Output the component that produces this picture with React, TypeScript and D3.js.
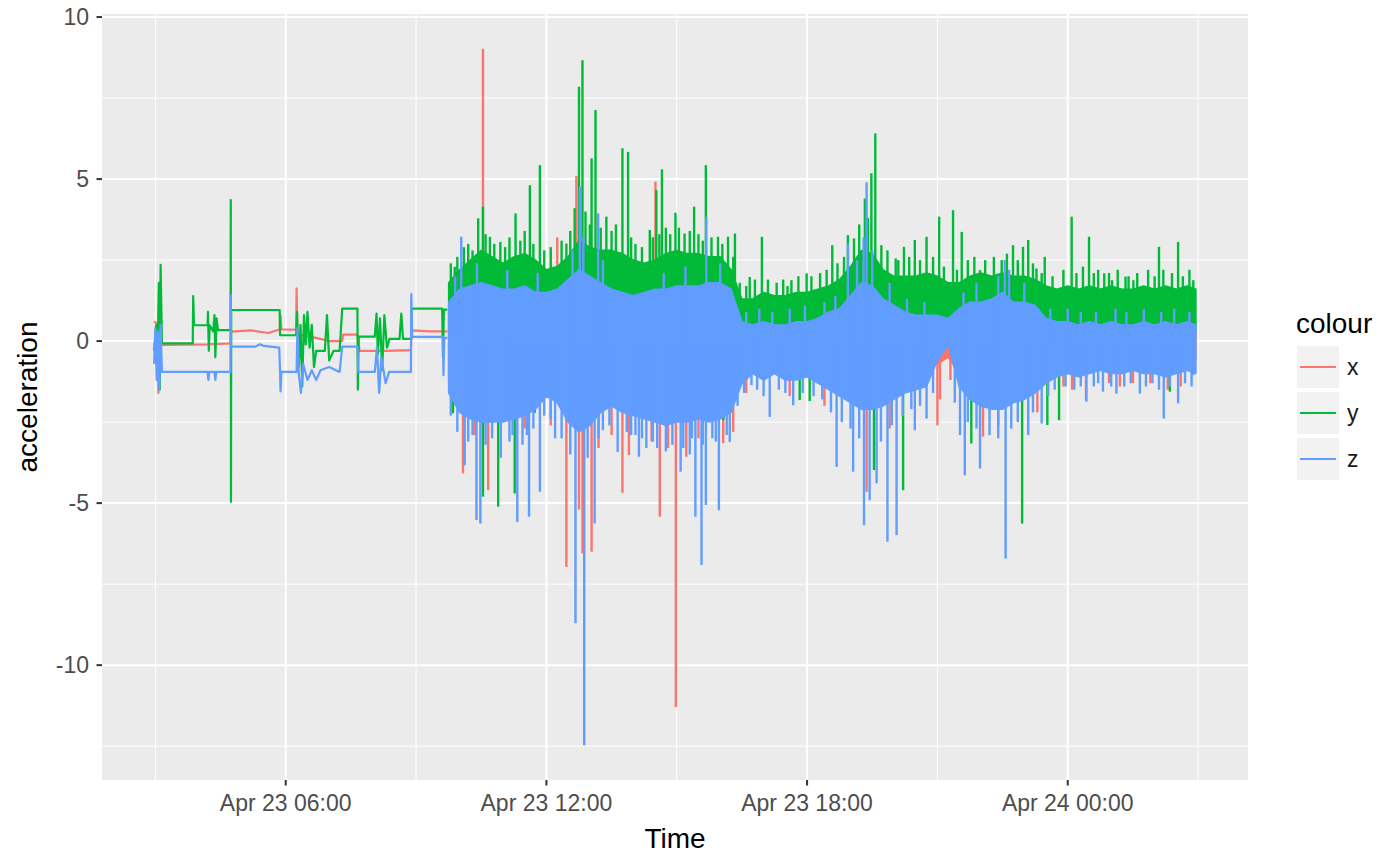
import React from 'react'
import * as d3 from 'd3'

// colours of the three acceleration axes (ggplot hue palette)
const seriesNames = ['x', 'y', 'z']
const seriesColors = ['#F8766D', '#00BA38', '#619CFF']

// quiet part of the recording: [hour since Apr 23 00:00, acceleration]
const quietX: [number, number][] = [
  [2.97, 0.6], [3.04, 0.55], [3.07, -1.6], [3.1, 0.4], [3.15, -0.1], [3.18, -0.12],
  [4.2, -0.1], [4.73, -0.07], [4.74, 0.29], [5.2, 0.33], [5.6, 0.25], [5.86, 0.36],
  [5.88, 0.8], [5.9, 0.36], [6.24, 0.35], [6.25, 1.63], [6.27, 0.2], [6.7, 0.1],
  [7.0, 0.0], [7.3, 0.0], [7.32, 0.2], [7.65, 0.2], [7.7, -0.3], [8.3, -0.3],
  [8.88, -0.28], [8.9, 0.33], [9.3, 0.3], [9.72, 0.3],
]
const quietY: [number, number][] = [
  [2.97, -0.3], [3.02, 0.5], [3.05, -0.4], [3.08, 1.8], [3.1, -1.5], [3.12, 2.35],
  [3.15, -0.07], [3.86, -0.07], [3.87, 1.39], [3.89, 0.49], [4.2, 0.49], [4.21, 0.9],
  [4.23, -0.3], [4.25, 0.49], [4.33, 0.3], [4.36, 0.8], [4.38, -0.5], [4.41, 0.7],
  [4.44, 0.34], [4.73, 0.34], [4.735, 4.35], [4.74, -4.96], [4.745, 0.96], [5.86, 0.96],
  [5.87, 0.18], [6.24, 0.18], [6.26, 0.9], [6.3, -0.8], [6.34, 0.5], [6.38, -1.4],
  [6.42, 0.8], [6.46, -0.1], [6.5, 0.9], [6.55, -0.2], [6.6, 0.5], [6.65, -0.8],
  [6.7, -0.3], [6.9, -0.3], [6.95, 0.8], [7.0, -0.6], [7.1, -0.3], [7.24, -0.3],
  [7.3, 1.0], [7.65, 1.0], [7.66, -1.5], [7.68, 0.14], [8.05, 0.14], [8.09, 0.85],
  [8.12, -0.4], [8.17, 0.7], [8.22, -0.9], [8.27, 0.8], [8.33, -0.2], [8.39, 0.07],
  [8.62, 0.07], [8.66, 0.85], [8.7, 0.07], [8.89, 0.07], [8.9, 1.0], [9.6, 1.0],
  [9.62, -0.5], [9.64, 0.97], [9.72, 0.97],
]
const quietZ: [number, number][] = [
  [2.97, -0.7], [3.0, 0.4], [3.03, -1.2], [3.06, 0.3], [3.09, -1.5], [3.12, 0.5],
  [3.15, -0.95], [4.2, -0.95], [4.22, -1.2], [4.24, -0.95], [4.36, -0.95], [4.38, -1.2],
  [4.4, -0.95], [4.73, -0.95], [4.735, 1.42], [4.74, -0.17], [5.3, -0.17], [5.4, -0.1],
  [5.5, -0.15], [5.85, -0.2], [5.87, -0.95], [5.88, -1.55], [5.9, -0.95], [6.25, -0.95],
  [6.27, 0.4], [6.3, -1.0], [6.35, -1.6], [6.4, -0.7], [6.5, -1.2], [6.6, -0.9],
  [6.7, -1.2], [6.8, -0.9], [7.0, -0.8], [7.24, -0.95], [7.3, -0.17], [7.65, -0.17],
  [7.67, -0.95], [8.05, -0.95], [8.1, -0.2], [8.15, -1.6], [8.2, -0.5], [8.3, -1.3],
  [8.38, -0.95], [8.88, -0.95], [8.89, 1.45], [8.91, 0.13], [9.3, 0.13], [9.62, 0.13],
  [9.63, -1.05], [9.65, 0.1], [9.72, 0.1],
]

// busy part: range covered by the dense trace in 15 minute bins
const bandHours = [
  9.75, 10, 10.25, 10.5, 10.75, 11, 11.25, 11.5, 11.75, 12, 12.25, 12.5, 12.75, 13,
  13.25, 13.5, 13.75, 14, 14.25, 14.5, 14.75, 15, 15.25, 15.5, 15.75, 16, 16.25, 16.5,
  16.75, 17, 17.25, 17.5, 17.75, 18, 18.25, 18.5, 18.75, 19, 19.25, 19.5, 19.75, 20,
  20.25, 20.5, 20.75, 21, 21.25, 21.5, 21.75, 22, 22.25, 22.5, 22.75, 23, 23.25, 23.5,
  23.75, 24, 24.25, 24.5, 24.75, 25, 25.25, 25.5, 25.75, 26, 26.25, 26.5, 26.75, 26.95,
]
const xLo = [
  -1.1, -1.7, -1.9, -2.1, -2.0, -2.1, -1.9, -1.8, -1.6, -1.1, -1.4, -2.1, -2.4, -2.2,
  -1.7, -1.5, -1.7, -1.8, -1.9, -2.1, -2.2, -2.1, -2.0, -1.9, -2.1, -2.0, -1.7,
  -0.5, -0.5, -0.6, -0.5, -0.6, -0.6, -0.5, -0.6, -0.8,
  -1.0, -1.3, -1.5, -1.5, -1.4, -1.2, -1.0,
  -0.9, -0.8, -0.7, -0.5,
  -1.0, -1.4, -1.6, -1.7, -1.7, -1.5, -1.4, -1.2,
  -0.7, -0.6, -0.6, -0.5, -0.6, -0.5, -0.6, -0.5, -0.6, -0.5, -0.6, -0.5, -0.6, -0.5, -0.6,
]
const xHi = [
  0.9, 1.2, 1.3, 1.4, 1.3, 1.2, 1.2, 1.3, 1.1, 1.1, 1.2, 1.5, 1.8, 1.6,
  1.5, 1.3, 1.2, 1.1, 1.2, 1.2, 1.3, 1.3, 1.3, 1.3, 1.4, 1.4, 1.2,
  0.3, 0.3, 0.3, 0.3, 0.3, 0.4, 0.4, 0.4, 0.6,
  0.8, 1.0, 1.3, 1.3, 1.0, 0.8, 0.6,
  0.5, 0.5, 0.4, 0.3,
  0.7, 0.9, 0.9, 1.0, 1.1, 1.0, 1.0, 0.9,
  0.4, 0.3, 0.3, 0.4, 0.3, 0.3, 0.4, 0.3, 0.3, 0.4, 0.3, 0.3, 0.4, 0.3, 0.3,
]
const yLo = [
  -1.3, -1.9, -2.1, -2.3, -2.2, -2.3, -2.1, -2.0, -1.8, -1.3, -1.6, -2.3, -2.6, -2.4,
  -1.9, -1.7, -1.9, -2.0, -2.1, -2.3, -2.4, -2.3, -2.2, -2.1, -2.3, -2.2, -1.9,
  0.4, 0.4, 0.3, 0.4, 0.4, 0.3, 0.4, 0.3, 0.2,
  -0.3, -0.8, -1.1, -1.1, -0.8, -0.3, 0.0,
  0.2, 0.3, 0.3, 0.3,
  -0.6, -1.0, -1.2, -1.2, -1.3, -1.0, -0.9, -0.6,
  0.3, 0.4, 0.3, 0.4, 0.3, 0.4, 0.3, 0.4, 0.3, 0.4, 0.3, 0.4, 0.3, 0.4, 0.3,
]
const yHi = [
  1.8, 2.2, 2.5, 2.8, 2.6, 2.4, 2.6, 2.7, 2.5, 2.2, 2.3, 2.6, 3.1, 2.9,
  2.8, 2.8, 2.7, 2.5, 2.4, 2.5, 2.7, 2.8, 2.7, 2.7, 2.6, 2.6, 2.2,
  1.3, 1.3, 1.5, 1.4, 1.4, 1.5, 1.5, 1.6, 1.7,
  1.9, 2.3, 2.8, 2.7, 2.2, 2.0, 2.0,
  2.0, 2.1, 2.0, 1.8,
  1.8, 2.0, 2.1, 2.0, 2.1, 2.0, 2.0, 1.9,
  1.7, 1.6, 1.7, 1.6, 1.7, 1.6, 1.7, 1.6, 1.6, 1.7, 1.6, 1.7, 1.6, 1.7, 1.6,
]
const zLo = [
  -1.6, -2.2, -2.4, -2.5, -2.5, -2.5, -2.4, -2.3, -2.1, -1.7, -1.9, -2.5, -2.8, -2.6,
  -2.2, -2.0, -2.2, -2.3, -2.4, -2.5, -2.6, -2.5, -2.5, -2.4, -2.5, -2.4, -2.2,
  -1.3, -1.0, -1.2, -1.0, -1.2, -1.2, -1.1, -1.3, -1.5,
  -1.7, -1.9, -2.1, -2.1, -2.0, -1.8, -1.6,
  -1.5, -1.4, -0.6, -0.1,
  -1.4, -1.8, -2.0, -2.1, -2.1, -1.9, -1.8, -1.6,
  -1.3, -1.1, -1.0, -1.1, -1.0, -0.9, -1.0, -1.0, -0.9, -1.0, -1.0, -1.1, -1.0, -0.9, -1.0,
]
const zHi = [
  1.2, 1.6, 1.7, 1.8, 1.7, 1.6, 1.6, 1.7, 1.5, 1.5, 1.6, 1.9, 2.2, 2.0,
  1.8, 1.6, 1.5, 1.4, 1.5, 1.6, 1.6, 1.7, 1.7, 1.7, 1.8, 1.8, 1.6,
  0.6, 0.5, 0.6, 0.5, 0.5, 0.6, 0.6, 0.7, 0.9,
  1.0, 1.4, 1.8, 1.7, 1.3, 1.1, 0.9,
  0.8, 0.8, 0.8, 0.7,
  1.0, 1.2, 1.2, 1.3, 1.5, 1.2, 1.2, 1.1,
  0.7, 0.6, 0.6, 0.5, 0.6, 0.5, 0.6, 0.5, 0.5, 0.6, 0.5, 0.6, 0.5, 0.6, 0.5,
]

// single readings that stick out of the dense trace: [hour, acceleration]
const spikesX: [number, number][] = [
  [10.08, -4.08], [10.54, 9.02], [10.66, -4.6], [11.09, -2.2], [12.25, 3.2], [12.46, -6.97],
  [12.69, 5.1], [12.75, -5.2], [12.83, -6.55], [13.04, -6.5], [13.5, -2.9], [13.75, -4.68],
  [13.9, -3.52], [14.42, -3.1], [14.51, 4.92], [14.61, -5.42], [14.8, -3.3], [14.98, -11.29],
  [15.22, -3.57], [16.07, -3.15], [19.37, -4.65], [21.0, -2.6], [21.06, -1.8], [22.05, -2.95],
  [23.9, -1.4], [24.42, -1.8], [24.95, -1.3], [25.5, -1.3], [26.6, -1.4],
  [10.35, -2.9], [11.5, -2.7], [12.1, -2.6], [13.2, -3.3], [15.5, -3.0], [16.3, -2.8],
  [16.6, -1.6], [17.6, -1.7], [18.4, -2.0], [19.9, -2.7], [21.3, -1.2], [22.4, -2.6],
  [23.3, -2.2], [24.1, -1.5], [25.2, -1.4], [25.9, -1.3], [26.3, -1.5],
]
const spikesY: [number, number][] = [
  [9.89, 2.29], [10.43, 3.79], [10.54, 4.15], [10.7, 3.22], [10.94, 3.06], [11.29, 3.94],
  [11.62, 4.81], [11.85, 5.43], [12.46, 3.01], [12.65, 4.1], [12.75, 7.85], [12.83, 8.67],
  [13.04, 5.64], [13.13, 7.13], [13.38, 3.84], [13.75, 5.95], [13.88, 5.84], [14.38, 3.43],
  [14.53, 4.66], [14.66, 5.3], [14.97, 3.96], [15.18, 3.32], [15.4, 4.15], [15.67, 5.43],
  [15.95, 3.22], [16.18, 3.22], [16.34, 3.32], [16.68, 1.98], [16.96, 3.22], [17.64, 1.88],
  [17.99, 2.09], [18.58, 2.96], [18.94, 3.27], [19.08, 3.17], [19.33, 4.4], [19.48, 5.18],
  [19.57, 6.41], [19.71, 2.96], [20.04, 2.55], [20.23, 2.91], [20.48, 3.12], [20.75, 3.22],
  [21.04, 3.84], [21.36, 4.04], [21.56, 3.37], [21.98, 2.19], [22.48, 2.5], [22.74, 2.96],
  [22.97, 2.91], [23.09, 3.12], [23.28, 2.24], [23.47, 2.6], [24.09, 3.84], [24.49, 3.22],
  [24.84, 2.09], [25.02, 1.88], [25.33, 1.99], [25.51, 1.88], [25.71, 1.63], [26.1, 2.91],
  [26.54, 3.06], [26.89, 1.88],
  [9.85, -2.23], [10.54, -4.8], [10.89, -5.11], [11.27, -4.7], [11.73, -2.22], [16.07, -2.44],
  [17.83, -1.82], [18.06, -1.85], [19.54, -3.98], [20.21, -4.6], [21.78, -3.16], [22.95, -5.63],
  [23.53, -2.59], [23.8, -2.44], [26.35, -1.56],
]
const spikesZ: [number, number][] = [
  [10.04, 3.22], [12.77, 4.76], [13.19, 3.94], [15.68, 3.84], [18.94, 3.0], [19.37, 4.9],
  [22.55, 2.5],
  [10.12, -3.83], [10.39, -5.52], [10.48, -5.63], [10.95, -3.6], [11.33, -5.58], [11.45, -3.2],
  [11.6, -5.42], [11.85, -4.65], [12.2, -3.0], [12.67, -8.71], [12.87, -12.47], [13.11, -5.63],
  [13.3, -2.75], [13.64, -3.42], [13.95, -2.9], [14.13, -3.57], [14.3, -3.3], [14.75, -3.4],
  [15.09, -4.03], [15.3, -3.5], [15.43, -5.42], [15.57, -6.91], [15.67, -5.06], [15.82, -3.0],
  [15.97, -5.22], [16.22, -3.11], [16.72, -1.36], [17.14, -2.34], [17.68, -1.98], [18.68, -3.88],
  [19.06, -4.03], [19.31, -5.68], [19.44, -4.91], [19.6, -4.39], [19.85, -6.19], [20.06, -5.99],
  [20.48, -2.75], [20.75, -2.39], [21.52, -2.9], [21.63, -4.14], [21.98, -3.93], [22.57, -6.71],
  [23.09, -2.9], [23.4, -2.54], [24.43, -1.87], [24.81, -1.56], [25.12, -1.62], [25.66, -1.62],
  [26.21, -2.39], [26.54, -1.92], [26.89, -1.05],
]

// shorter excursions that make the ragged edge of the dense trace
const fringeY: [number, number][] = [
  [9.8, 2.4], [9.95, 2.6], [10.1, 2.9], [10.2, 3.0], [10.3, 2.8], [10.6, 3.3], [10.8, 3.0],
  [11.05, 2.9], [11.15, 3.2], [11.4, 3.1], [11.5, 3.4], [11.7, 3.0], [11.95, 2.8], [12.1, 2.9],
  [12.35, 3.1], [12.55, 3.4], [12.9, 4.0], [13.0, 3.6], [13.25, 3.5], [13.5, 3.4], [13.6, 3.6],
  [13.95, 3.2], [14.05, 3.0], [14.2, 2.9], [14.45, 3.2], [14.6, 3.3], [14.75, 3.5], [14.85, 3.3],
  [15.05, 3.5], [15.3, 3.4], [15.5, 3.3], [15.6, 3.1], [15.8, 3.2], [16.05, 3.0], [16.3, 2.6],
  [16.45, 1.8], [16.6, 1.7], [16.8, 1.9], [17.1, 1.9], [17.3, 1.8], [17.45, 1.9], [17.55, 1.7],
  [17.8, 2.0], [18.1, 2.0], [18.3, 2.1], [18.45, 2.2], [18.7, 2.4], [18.85, 2.6], [19.2, 3.6],
  [19.4, 3.8], [19.85, 2.8], [20.1, 2.5], [20.35, 2.6], [20.6, 2.5], [20.9, 2.6], [21.15, 2.3],
  [21.45, 2.2], [21.7, 2.5], [21.85, 2.6], [22.1, 2.5], [22.3, 2.6], [22.6, 2.7], [22.85, 2.5],
  [23.2, 2.4], [23.4, 2.1], [23.65, 2.0], [23.9, 2.2], [24.2, 2.1], [24.35, 2.3], [24.6, 2.1],
  [24.7, 2.2], [24.95, 2.1], [25.15, 2.2], [25.4, 2.0], [25.6, 2.1], [25.85, 2.2], [26.0, 2.0],
  [26.2, 2.2], [26.4, 2.1], [26.65, 2.0], [26.8, 2.2],
]
const fringeZ: [number, number][] = [
  [9.8, -2.3], [9.95, -2.8], [10.2, -3.1], [10.3, -2.9], [10.6, -3.2], [10.75, -3.0],
  [11.15, -3.1], [11.22, -2.9], [11.55, -2.9], [11.7, -2.7], [11.95, -2.3], [12.1, -2.4],
  [12.35, -3.0], [12.55, -3.5], [12.95, -3.6], [13.2, -3.0], [13.45, -2.6], [13.85, -2.8],
  [14.05, -2.9], [14.2, -3.0], [14.45, -3.1], [14.55, -3.3], [14.9, -3.2], [15.15, -3.3],
  [15.35, -3.0], [15.6, -3.2], [15.9, -3.1], [16.15, -2.9], [16.4, -2.0],
  [16.55, -1.6], [16.85, -1.5], [17.0, -1.7], [17.35, -1.5], [17.5, -1.6], [17.9, -1.6],
  [18.15, -1.7], [18.35, -1.8], [18.55, -2.2], [18.8, -2.5], [19.0, -2.7], [19.2, -3.0],
  [19.7, -3.1], [19.95, -2.6], [20.2, -2.3], [20.4, -2.1], [20.6, -2.0], [20.9, -1.6],
  [21.4, -1.9], [21.7, -2.5], [21.9, -2.7], [22.2, -2.9], [22.4, -3.0], [22.7, -2.7],
  [22.85, -2.5], [23.2, -2.2], [23.55, -1.7], [23.7, -1.5], [23.95, -1.4], [24.15, -1.5],
  [24.3, -1.4], [24.6, -1.4], [24.7, -1.3], [25.0, -1.4], [25.3, -1.4], [25.45, -1.3],
  [25.8, -1.4], [25.95, -1.3], [26.1, -1.5], [26.35, -1.4], [26.7, -1.3], [26.85, -1.4],
  [9.9, 2.0], [10.4, 2.4], [11.1, 2.2], [11.8, 2.1], [12.6, 2.8], [12.85, 3.2], [13.3, 2.5],
  [14.7, 2.1], [15.2, 2.3], [16.0, 2.4], [16.6, 0.9], [16.9, 1.0], [17.2, 0.9], [17.6, 1.0],
  [17.95, 1.1], [18.4, 1.2], [18.65, 1.4], [19.15, 2.5], [19.3, 3.2], [19.5, 2.8], [19.9, 1.8],
  [20.3, 1.3], [20.7, 1.2], [21.6, 1.5], [21.9, 1.8], [22.4, 2.0], [22.65, 2.2], [23.0, 1.8],
  [23.6, 1.0], [24.0, 1.0], [24.3, 0.9], [24.65, 0.9], [25.1, 1.0], [25.35, 0.9], [25.75, 1.0],
  [26.15, 0.9], [26.45, 1.0], [26.8, 0.9],
]

const series = [
  { quiet: quietX, lo: xLo, hi: xHi, spikes: spikesX },
  { quiet: quietY, lo: yLo, hi: yHi, spikes: spikesY.concat(fringeY) },
  { quiet: quietZ, lo: zLo, hi: zHi, spikes: spikesZ.concat(fringeZ) },
]

const day0 = Date.UTC(2016, 3, 23)
const toDate = (h: number) => new Date(day0 + h * 3600e3)

const font = '"Liberation Sans", Arial, Helvetica, sans-serif'
const panel = { left: 102, right: 1248, top: 14, bottom: 780 }

function expand([a, b]: [number, number]): [number, number] {
  const pad = (b - a) * 0.05
  return [a - pad, b + pad]
}

export default function App() {
  const hours = series.flatMap((s) => s.quiet.map((d) => d[0])).concat(bandHours)
  const vals = series.flatMap((s) => [
    ...s.quiet.map((d) => d[1]), ...s.lo, ...s.hi, ...s.spikes.map((d) => d[1]),
  ])
  const [h0, h1] = expand(d3.extent(hours) as [number, number])
  const x = d3.scaleUtc().domain([toDate(h0), toDate(h1)]).range([panel.left, panel.right])
  const y = d3.scaleLinear()
    .domain(expand(d3.extent(vals) as [number, number]))
    .range([panel.bottom, panel.top])

  const majorX = x.ticks(d3.utcHour.every(6)!)
  const minorX = x.ticks(d3.utcHour.every(3)!).filter((d) => d.getUTCHours() % 6 !== 0)
  const majorY = y.ticks(5)
  const minorY = d3.range(-12.5, 10, 5).filter((v) => v > y.domain()[0] && v < y.domain()[1])
  const fmt = d3.utcFormat('%b %d %H:%M')

  const line = d3.line<[number, number]>()
    .x((d) => x(toDate(d[0])))
    .y((d) => y(d[1]))
  const band = (lo: number[], hi: number[]) => d3.area<number>()
    .x((h) => x(toDate(h)))
    .y0((_, i) => y(lo[i]))
    .y1((_, i) => y(hi[i]))(bandHours)

  return (
    <svg width={1381} height={855} style={{ position: 'absolute', left: 0, top: 0, background: '#fff' }}>
      <defs>
        <clipPath id="panel">
          <rect x={panel.left} y={panel.top} width={panel.right - panel.left} height={panel.bottom - panel.top} />
        </clipPath>
      </defs>
      <rect x={panel.left} y={panel.top} width={panel.right - panel.left} height={panel.bottom - panel.top} fill="#EBEBEB" />
      {minorY.map((v) => (
        <line key={'my' + v} x1={panel.left} x2={panel.right} y1={y(v)} y2={y(v)} stroke="#fff" strokeWidth={1} />
      ))}
      {minorX.map((d) => (
        <line key={'mx' + +d} x1={x(d)} x2={x(d)} y1={panel.top} y2={panel.bottom} stroke="#fff" strokeWidth={1} />
      ))}
      {majorY.map((v) => (
        <line key={'gy' + v} x1={panel.left} x2={panel.right} y1={y(v)} y2={y(v)} stroke="#fff" strokeWidth={2} />
      ))}
      {majorX.map((d) => (
        <line key={'gx' + +d} x1={x(d)} x2={x(d)} y1={panel.top} y2={panel.bottom} stroke="#fff" strokeWidth={2} />
      ))}

      <g clipPath="url(#panel)" fill="none" strokeLinejoin="round">
        {series.map((s, k) => (
          <g key={k} stroke={seriesColors[k]}>
            <path d={line(s.quiet)!} strokeWidth={2.2} />
            <path d={band(s.lo, s.hi)!} fill={seriesColors[k]} strokeWidth={1.5} />
            {s.spikes.map(([h, v], i) => (
              <line key={i} x1={x(toDate(h))} x2={x(toDate(h))} y1={y(0)} y2={y(v)} strokeWidth={2.4} />
            ))}
          </g>
        ))}
      </g>

      <g fontFamily={font} fontSize={23} fill="#4D4D4D">
        {majorY.map((v) => (
          <g key={'ty' + v}>
            <line x1={panel.left - 5.5} x2={panel.left} y1={y(v)} y2={y(v)} stroke="#333" strokeWidth={2} />
            <text x={89} y={y(v)} dy="0.35em" textAnchor="end">{v}</text>
          </g>
        ))}
        {majorX.map((d) => (
          <g key={'tx' + +d}>
            <line x1={x(d)} x2={x(d)} y1={panel.bottom} y2={panel.bottom + 5.5} stroke="#333" strokeWidth={2} />
            <text x={x(d)} y={811} textAnchor="middle">{fmt(d)}</text>
          </g>
        ))}
      </g>

      <g fontFamily={font} fontSize={28} fill="#000">
        <text x={(panel.left + panel.right) / 2} y={848} textAnchor="middle">Time</text>
        <text transform="translate(37,397) rotate(-90)" textAnchor="middle">acceleration</text>
        <text x={1296} y={333}>colour</text>
      </g>

      <g fontFamily={font} fontSize={23} fill="#4D4D4D">
        {seriesNames.map((name, k) => (
          <g key={name} transform={`translate(1297,${346 + k * 46})`}>
            <rect width={42} height={42} fill="#F2F2F2" />
            <line x1={3} x2={39} y1={21} y2={21} stroke={seriesColors[k]} strokeWidth={2.2} />
            <text x={50} y={21} dy="0.35em" fill="#1a1a1a">{name}</text>
          </g>
        ))}
      </g>
    </svg>
  )
}
